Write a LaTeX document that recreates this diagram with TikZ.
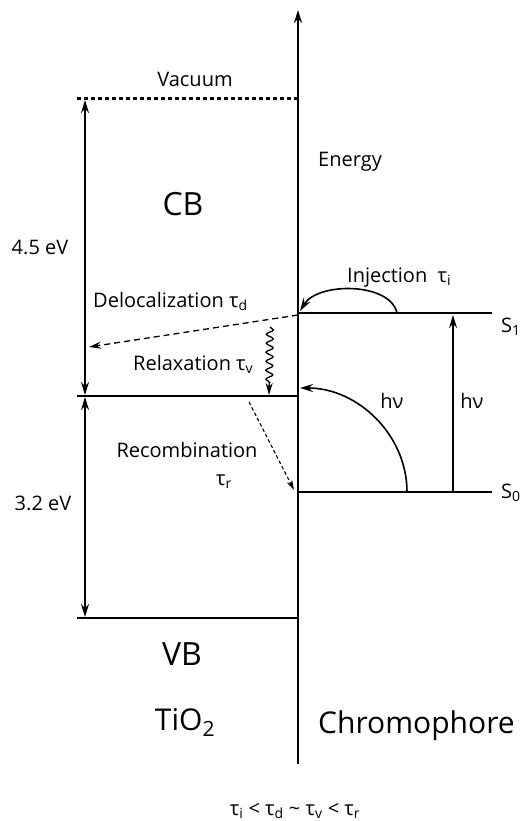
\documentclass[tikz,border=0pt]{standalone}
\usepackage{fontspec}
\setmainfont{Open Sans}
\usepackage{tikz}
\usetikzlibrary{arrows.meta,decorations.pathmorphing}

\begin{document}
\begin{tikzpicture}[x=1pt, y=-1pt, >={Stealth[length=13pt,width=8pt]},
    every node/.style={font=\fontsize{20}{24}\selectfont, inner sep=0pt},
    level/.style={line width=2.2pt},
    gap/.style={line width=1.7pt, <->},
    big/.style={font=\fontsize{32}{38}\selectfont},
    mid/.style={font=\fontsize{30}{36}\selectfont}]
    \useasboundingbox (0,0) rectangle (525,821);

    % energy levels
    \coordinate (axB) at (298,764);
    \coordinate (axT) at (298,10);
    \coordinate (vacL) at (77,99);
    \coordinate (vacR) at (298,99);
    \coordinate (cbL) at (77,396);
    \coordinate (cbR) at (298,396);
    \coordinate (vbL) at (77,618);
    \coordinate (vbR) at (298,618);
    \coordinate (s1L) at (298,313);
    \coordinate (s1R) at (492,313);
    \coordinate (s0L) at (298,492);
    \coordinate (s0R) at (492,492);

    \draw[level, ->] (axB) -- (axT);
    \draw[line width=3pt, dash pattern=on 3.5pt off 3.5pt] (vacL) -- (vacR);
    \draw[level] (cbL) -- (cbR);
    \draw[level] (vbL) -- (vbR);
    \draw[level] (s1L) -- (s1R);
    \draw[level] (s0L) -- (s0R);

    % gaps
    \coordinate (g1T) at (85,100);
    \coordinate (g1B) at (85,395);
    \coordinate (g2T) at (85,397);
    \coordinate (g2B) at (85,617);
    \draw[gap] (g1T) -- (g1B);
    \draw[gap] (g2T) -- (g2B);

    % transitions
    \coordinate (injS) at (397,313);
    \coordinate (injE) at (300,311);
    \coordinate (hvS) at (407,492);
    \coordinate (hvE) at (300,388);
    \coordinate (absB) at (453,492);
    \coordinate (absT) at (453,315);
    \coordinate (delS) at (298,315);
    \coordinate (delE) at (89,347);
    \coordinate (relS) at (270,327);
    \coordinate (relE) at (269,395);
    \coordinate (recS) at (249,402);
    \coordinate (recE) at (294,490);

    \draw[line width=1.6pt, ->] (injS) .. controls (390,282) and (318,282) .. (injE);
    \draw[line width=1.6pt, ->] (hvS) .. controls (407,435) and (358,388) .. (hvE);
    \draw[line width=1.6pt, ->] (absB) -- (absT);
    \draw[line width=1.3pt, dash pattern=on 6pt off 4pt, -{Stealth[length=12pt,width=7pt]}] (delS) -- (delE);
    \draw[line width=1.3pt, -{Stealth[length=12pt,width=7pt]}, decorate, decoration={snake, amplitude=3.5pt, segment length=9pt, post length=12pt}] (relS) -- (relE);
    \draw[line width=1.1pt, dash pattern=on 3.5pt off 2.5pt, -{Stealth[length=10pt,width=6pt]}] (recS) -- (recE);

    % labels
    \node[anchor=base] (vacuum) at (195,87) {Vacuum};
    \node[anchor=base west] (energy) at (318,167) {Energy};
    \node[big, anchor=base] (cb) at (183,215) {CB};
    \node[anchor=base] (gap1) at (40,254) {4.5 eV};
    \node[anchor=base west] (deloc) at (93,307) {Delocalization τ\textsubscript{d}};
    \node[anchor=base west] (relax) at (133,370) {Relaxation τ\textsubscript{v}};
    \node[anchor=base west] (inject) at (347,282) {Injection\ \ τ\textsubscript{i}};
    \node[anchor=base west] (s1) at (501,332) {S\textsubscript{1}};
    \node[anchor=base] (hv1) at (392,408) {hν};
    \node[anchor=base] (hv2) at (472,408) {hν};
    \node[anchor=base] (recomb) at (187,457) {Recombination};
    \node[anchor=base] (taur) at (224,485) {τ\textsubscript{r}};
    \node[anchor=base west] (s0) at (501,498) {S\textsubscript{0}};
    \node[anchor=base] (gap2) at (43,510) {3.2 eV};
    \node[big, anchor=base] (vb) at (182,665) {VB};
    \node[mid, anchor=base] (tio2) at (185,730) {TiO\textsubscript{2}};
    \node[mid, anchor=base west] (chrom) at (318,733) {Chromophore};
    \node[anchor=base] (order) at (295,815) {τ\textsubscript{i} < τ\textsubscript{d} \textasciitilde{} τ\textsubscript{v} < τ\textsubscript{r}};
\end{tikzpicture}
\end{document}
